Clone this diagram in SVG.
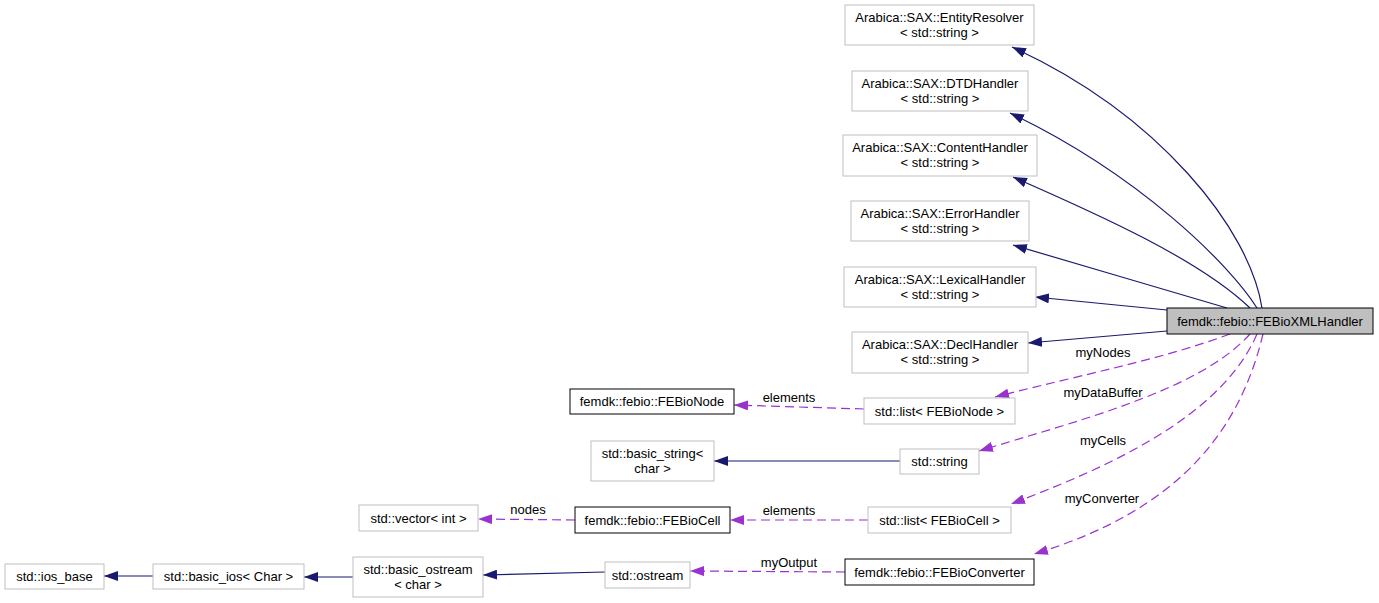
<svg xmlns="http://www.w3.org/2000/svg" width="1379" height="603" viewBox="0 0 1379 603">
<style>
text{font-family:"Liberation Sans",Arial,sans-serif;font-size:13px;fill:#000;text-anchor:middle}
.g{fill:#fff;stroke:#bfbfbf;stroke-width:1}
.b{fill:#fff;stroke:#000;stroke-width:1}
.m{fill:#bfbfbf;stroke:#000;stroke-width:1}
.inh{fill:none;stroke:#191970;stroke-width:1.2;marker-end:url(#an)}
.use{fill:none;stroke:#9a32cd;stroke-width:1.2;stroke-dasharray:9,5;marker-end:url(#ap)}
</style>
<defs>
<marker id="an" markerUnits="userSpaceOnUse" viewBox="0 0 14 10" markerWidth="14" markerHeight="10" refX="14" refY="5" orient="auto"><path d="M0,0L14,5L0,10z" fill="#191970"/></marker>
<marker id="ap" markerUnits="userSpaceOnUse" viewBox="0 0 14 10" markerWidth="14" markerHeight="10" refX="14" refY="5" orient="auto"><path d="M0,0L14,5L0,10z" fill="#9a32cd"/></marker>
</defs>
<rect width="1379" height="603" fill="#fff"/>
<g id="connectors">
<path class="inh" d="M1262,308C1250,230 1160,115 1012,47"/>
<path class="inh" d="M1257,308C1230,265 1140,175 1010,113"/>
<path class="inh" d="M1250,308C1200,260 1100,215 1013,177"/>
<path class="inh" d="M1227,308C1160,288 1080,265 1013,245"/>
<path class="inh" d="M1167,310L1035,297"/>
<path class="inh" d="M1167,331L1028,343"/>
<path class="use" d="M1230,334C1160,360 1080,375 995,397"/>
<path class="use" d="M1250,334C1200,390 1080,420 979,451"/>
<path class="use" d="M1257,334C1220,420 1100,470 1011,504"/>
<path class="use" d="M1263,334C1240,430 1180,510 1034,554"/>
<path class="use" d="M864,409L734,405"/>
<path class="inh" d="M900,461L714,461"/>
<path class="use" d="M868,520L730,520"/>
<path class="use" d="M575,520L478,519"/>
<path class="use" d="M845,572L690,571"/>
<path class="inh" d="M605,572L483,575"/>
<path class="inh" d="M353,577L304,577"/>
<path class="inh" d="M153,576L104,576"/>
<text x="1103" y="357">myNodes</text>
<text x="1103" y="397">myDataBuffer</text>
<text x="1103" y="445">myCells</text>
<text x="1102" y="503">myConverter</text>
<text x="789" y="402">elements</text>
<text x="789" y="515">elements</text>
<text x="528" y="514">nodes</text>
<text x="789" y="567">myOutput</text>
</g>
<g id="FEBioXMLHandler"><rect class="m" x="1167" y="308" width="206" height="26"/><text x="1270" y="325.5">femdk::febio::FEBioXMLHandler</text></g>
<g id="EntityResolver"><rect class="g" x="845" y="5" width="189" height="40"/><text x="939.5" y="22">Arabica::SAX::EntityResolver</text><text x="939.5" y="37">&lt; std::string &gt;</text></g>
<g id="DTDHandler"><rect class="g" x="852" y="71" width="176" height="40"/><text x="940" y="88">Arabica::SAX::DTDHandler</text><text x="940" y="103">&lt; std::string &gt;</text></g>
<g id="ContentHandler"><rect class="g" x="843" y="135" width="194" height="41"/><text x="940" y="152">Arabica::SAX::ContentHandler</text><text x="940" y="167">&lt; std::string &gt;</text></g>
<g id="ErrorHandler"><rect class="g" x="851" y="201" width="178" height="40"/><text x="940" y="218">Arabica::SAX::ErrorHandler</text><text x="940" y="233">&lt; std::string &gt;</text></g>
<g id="LexicalHandler"><rect class="g" x="844" y="267" width="192" height="40"/><text x="940" y="284">Arabica::SAX::LexicalHandler</text><text x="940" y="299">&lt; std::string &gt;</text></g>
<g id="DeclHandler"><rect class="g" x="852" y="332" width="176" height="41"/><text x="940" y="349">Arabica::SAX::DeclHandler</text><text x="940" y="364">&lt; std::string &gt;</text></g>
<g id="ListFEBioNode"><rect class="g" x="864" y="398" width="151" height="26"/><text x="939.5" y="415.5">std::list&lt; FEBioNode &gt;</text></g>
<g id="FEBioNode"><rect class="b" x="570" y="389" width="164" height="25"/><text x="652" y="406">femdk::febio::FEBioNode</text></g>
<g id="StdString"><rect class="g" x="900" y="449" width="79" height="25"/><text x="939.5" y="466">std::string</text></g>
<g id="BasicString"><rect class="g" x="591" y="441" width="123" height="40"/><text x="652.5" y="458">std::basic_string&lt;</text><text x="652.5" y="473">char &gt;</text></g>
<g id="ListFEBioCell"><rect class="g" x="868" y="507" width="143" height="26"/><text x="939.5" y="524.5">std::list&lt; FEBioCell &gt;</text></g>
<g id="FEBioCell"><rect class="b" x="575" y="507" width="155" height="26"/><text x="652.5" y="524.5">femdk::febio::FEBioCell</text></g>
<g id="VectorInt"><rect class="g" x="359" y="505" width="119" height="26"/><text x="418.5" y="522.5">std::vector&lt; int &gt;</text></g>
<g id="FEBioConverter"><rect class="b" x="845" y="559" width="189" height="26"/><text x="939.5" y="576.5">femdk::febio::FEBioConverter</text></g>
<g id="Ostream"><rect class="g" x="605" y="562" width="85" height="26"/><text x="647.5" y="579.5">std::ostream</text></g>
<g id="BasicOstream"><rect class="g" x="353" y="557" width="130" height="40"/><text x="418" y="574">std::basic_ostream</text><text x="418" y="589">&lt; char &gt;</text></g>
<g id="BasicIos"><rect class="g" x="153" y="564" width="151" height="25"/><text x="228.5" y="581">std::basic_ios&lt; Char &gt;</text></g>
<g id="IosBase"><rect class="g" x="5" y="564" width="99" height="25"/><text x="54.5" y="581">std::ios_base</text></g>
</svg>
